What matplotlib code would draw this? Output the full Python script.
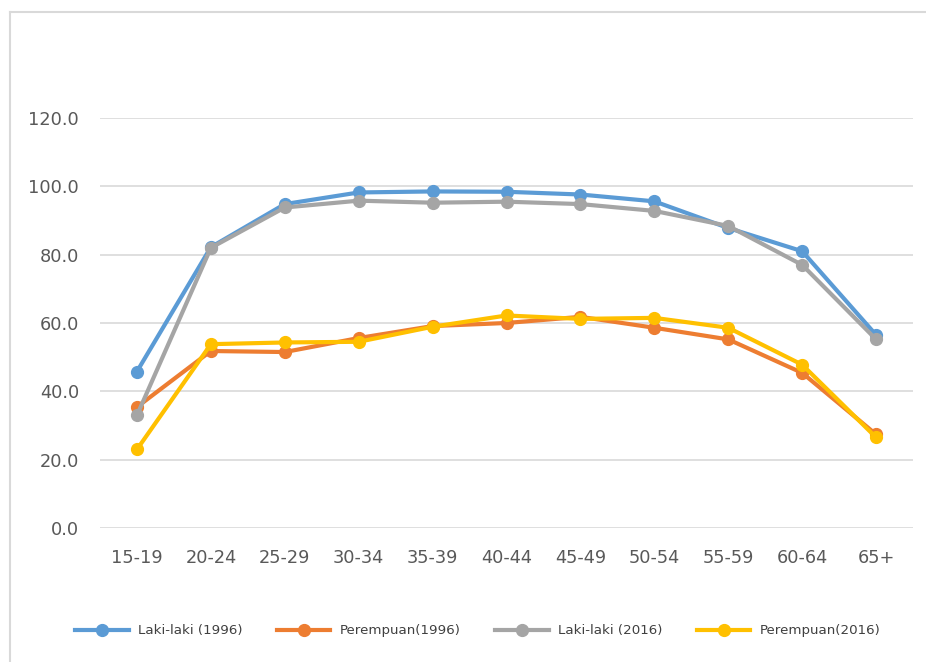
"""
Labour force participation by age group, men and women, 1996 vs 2016.
"""
import matplotlib.pyplot as plt
from matplotlib.lines import Line2D

age_groups = ["15-19", "20-24", "25-29", "30-34", "35-39", "40-44",
              "45-49", "50-54", "55-59", "60-64", "65+"]
male_1996 = [45.8, 82.2, 94.8, 98.2, 98.5, 98.4, 97.6, 95.6, 87.8, 81.0, 56.5]
female_1996 = [35.4, 51.8, 51.5, 55.6, 59.1, 60.0, 61.8, 58.6, 55.2, 45.4, 27.4]
male_2016 = [33.0, 82.0, 93.8, 95.8, 95.2, 95.5, 94.8, 92.8, 88.4, 77.0, 55.2]
female_2016 = [23.0, 53.8, 54.3, 54.5, 58.9, 62.2, 61.2, 61.5, 58.6, 47.8, 26.5]

series = [
    ("Laki-laki (1996)", male_1996, "#5b9bd5"),
    ("Perempuan(1996)", female_1996, "#ed7d31"),
    ("Laki-laki (2016)", male_2016, "#a5a5a5"),
    ("Perempuan(2016)", female_2016, "#ffc000"),
]

fig = plt.figure(figsize=(9.26, 6.62), dpi=100)
ax = fig.add_axes([0.108, 0.2024, 0.878, 0.6194])

x = range(len(age_groups))
for label, values, color in series:
    ax.plot(x, values, color=color, lw=3, marker="o", markersize=8.5,
            solid_capstyle="round", label=label)

ax.set_xlim(-0.5, len(age_groups) - 0.5)
ax.set_ylim(0, 120)
ax.set_yticks(range(0, 121, 20))
ax.set_yticklabels([f"{v:.1f}" for v in range(0, 121, 20)])
ax.set_xticks(list(x))
ax.set_xticklabels(age_groups)
ax.tick_params(length=0, labelsize=12.8, colors="#595959", pad=15)
ax.tick_params(axis="y", pad=15)
ax.grid(axis="y", color="#d9d9d9", lw=1.2)
ax.set_axisbelow(True)
for spine in ax.spines.values():
    spine.set_visible(False)

# Legend along the bottom, with line-and-dot handles
handles = [Line2D([0], [0], color=c, lw=3, marker="o", markersize=8.5)
           for _, _, c in series]
fig.legend(handles, [s[0] for s in series], loc="center",
           bbox_to_anchor=(0.516, 0.047), ncol=4, frameon=False,
           fontsize=9.6, handlelength=4.0, handletextpad=0.7,
           columnspacing=2.6, labelcolor="#404040")

# Chart-area frame on the top and left edges
fig.add_artist(Line2D([0.011, 0.011], [0.982, 0.0], color="#d9d9d9", lw=1.5,
                      transform=fig.transFigure))
fig.add_artist(Line2D([0.011, 1.0], [0.982, 0.982], color="#d9d9d9", lw=1.5,
                      transform=fig.transFigure))

fig.savefig("out.png", dpi=100, facecolor="white")
